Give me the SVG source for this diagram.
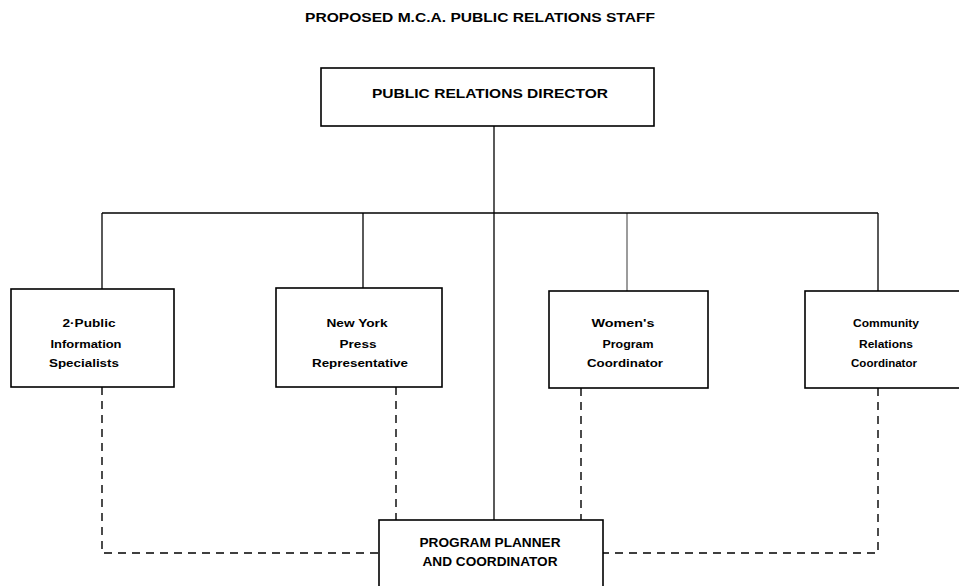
<svg xmlns="http://www.w3.org/2000/svg" width="959" height="586" viewBox="0 0 959 586">
<style>
  .box { fill: #fff; stroke: #000; stroke-width: 1.6; }
  .t { font-family: "Liberation Sans", Arial, sans-serif; font-weight: bold; fill: #000; text-anchor: middle; }
  .title { font-size: 12.5px; }
  .big { font-size: 12px; }
  .prog { font-size: 12.5px; }
  .small { font-size: 10px; }
  .solid { fill: none; stroke: #000; stroke-width: 1.3; }
  .dash { fill: none; stroke: #000; stroke-width: 1.4; stroke-dasharray: 8 6; }
</style>
<rect width="959" height="586" fill="#fff"/>
<text class="t title" x="480" y="22" textLength="350" lengthAdjust="spacingAndGlyphs">PROPOSED M.C.A. PUBLIC RELATIONS STAFF</text>
<g id="connectors">
  <path class="solid" d="M494,126 V520"/>
  <path class="solid" d="M102,213 H878"/>
  <path class="solid" d="M102,213 V289"/>
  <path class="solid" d="M363,213 V288"/>
  <path class="solid" d="M627,213 V291" stroke-opacity="0.6"/>
  <path class="solid" d="M878,213 V291"/>
  <path class="dash" d="M102,387 V553 H379"/>
  <path class="dash" d="M396,387 V520"/>
  <path class="dash" d="M581,388 V520"/>
  <path class="dash" d="M878,388 V553 H603"/>
</g>
<g id="director">
  <rect class="box" x="321" y="68" width="333" height="58"/>
  <text class="t big" x="490" y="98" textLength="236" lengthAdjust="spacingAndGlyphs">PUBLIC RELATIONS DIRECTOR</text>
</g>
<g id="specialists">
  <rect class="box" x="11" y="289" width="163" height="98"/>
  <text class="t small" x="89" y="327" textLength="53" lengthAdjust="spacingAndGlyphs">2·Public</text>
  <text class="t small" x="86" y="348" textLength="71" lengthAdjust="spacingAndGlyphs">Information</text>
  <text class="t small" x="84" y="367" textLength="70" lengthAdjust="spacingAndGlyphs">Specialists</text>
</g>
<g id="press">
  <rect class="box" x="276" y="288" width="166" height="99"/>
  <text class="t small" x="357" y="327" textLength="61" lengthAdjust="spacingAndGlyphs">New York</text>
  <text class="t small" x="358" y="348" textLength="37" lengthAdjust="spacingAndGlyphs">Press</text>
  <text class="t small" x="360" y="367" textLength="96" lengthAdjust="spacingAndGlyphs">Representative</text>
</g>
<g id="womens">
  <rect class="box" x="549" y="291" width="159" height="97"/>
  <text class="t small" x="623" y="327" textLength="63" lengthAdjust="spacingAndGlyphs">Women's</text>
  <text class="t small" x="628" y="348" textLength="51" lengthAdjust="spacingAndGlyphs">Program</text>
  <text class="t small" x="625" y="367" textLength="76" lengthAdjust="spacingAndGlyphs">Coordinator</text>
</g>
<g id="community">
  <rect class="box" x="805" y="291" width="170" height="97"/>
  <text class="t small" x="886" y="327" textLength="66" lengthAdjust="spacingAndGlyphs">Community</text>
  <text class="t small" x="886" y="348" textLength="54" lengthAdjust="spacingAndGlyphs">Relations</text>
  <text class="t small" x="884" y="367" textLength="66" lengthAdjust="spacingAndGlyphs">Coordinator</text>
</g>
<g id="planner">
  <rect class="box" x="379" y="520" width="224" height="80"/>
  <text class="t prog" x="490" y="547" textLength="141" lengthAdjust="spacingAndGlyphs">PROGRAM PLANNER</text>
  <text class="t prog" x="490" y="566" textLength="135" lengthAdjust="spacingAndGlyphs">AND COORDINATOR</text>
</g>
</svg>
